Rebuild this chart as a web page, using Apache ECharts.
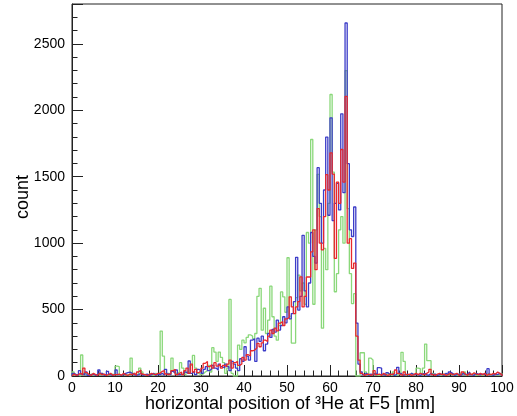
<!DOCTYPE html>
<html>
<head>
<meta charset="utf-8">
<script src="https://cdn.jsdelivr.net/npm/echarts@6/dist/echarts.min.js"></script>
<style>
html,body{margin:0;padding:0;background:#fff;}
#chart{width:517px;height:416px;}
</style>
</head>
<body>
<div id="chart"></div>
<script>
// Histogram: 200 bins of 0.5 mm from 0 to 100 mm
const xMin = 0, xMax = 100, binWidth = 0.5;
const yMax = 2800;
const xTitle = 'horizontal position of \u00B3He at F5 [mm]';
const yTitle = 'count';

const blueCounts = [
  20,10,5,40,15,10,30,5,10,15,
  5,10,45,20,5,10,35,10,5,10,
  45,10,5,10,20,25,30,20,10,5,
  10,20,5,10,15,5,10,20,5,15,
  10,20,5,50,15,10,35,20,45,10,
  15,10,30,20,113,20,35,10,50,40,
  20,50,70,40,55,80,60,45,90,70,
  60,90,70,40,110,90,60,40,130,110,
  220,150,120,270,280,110,285,260,300,190,
  240,320,290,350,330,420,346,380,446,400,
  520,430,470,560,893,496,600,1059,640,520,
  700,1080,900,850,1568,1300,1000,1400,1798,1210,
  1943,1170,1300,1450,1250,1973,1380,2657,1598,1100,
  1050,1272,398,90,30,10,20,5,15,10,
  20,10,63,60,10,5,25,10,15,5,
  10,65,20,5,10,15,5,20,10,15,
  10,5,15,20,10,5,20,10,15,5,
  10,15,5,20,10,30,20,5,10,15,
  5,20,10,15,30,10,5,20,15,10,
  15,10,20,55,10,5,15,10,20,10
];
const redCounts = [
  15,5,10,20,10,60,25,10,5,20,
  10,5,20,10,15,5,10,20,5,10,
  10,15,5,20,10,5,15,10,20,5,
  30,45,15,10,5,10,20,15,10,20,
  20,35,40,15,10,20,40,50,10,20,
  30,10,40,60,20,90,30,50,25,40,
  60,95,110,70,85,60,100,75,90,60,
  80,70,90,120,60,100,110,80,90,140,
  120,160,150,190,195,210,245,220,250,270,
  260,300,345,320,360,340,398,410,380,430,
  440,596,520,470,520,560,746,520,600,745,
  745,935,1100,800,1260,1000,950,1200,1515,1400,
  1680,1520,885,1460,1300,1705,1460,2104,1000,1034,
  810,850,300,120,20,5,10,15,5,10,
  40,10,15,5,20,10,5,15,10,20,
  45,20,10,5,30,10,15,5,10,20,
  10,20,15,10,20,30,50,10,5,15,
  20,10,15,5,10,20,10,15,20,5,
  10,30,15,5,20,10,25,15,10,20,
  10,20,5,15,10,20,15,30,20,10
];
const greenCounts = [
  30,10,5,0,158,20,10,5,15,10,
  5,15,10,20,5,10,5,10,15,5,
  75,70,5,10,15,5,10,135,20,10,
  15,60,30,10,5,15,10,5,20,10,
  25,338,150,20,20,10,135,40,20,30,
  100,60,10,30,20,80,155,60,20,10,
  15,30,40,80,30,213,180,110,180,140,
  100,20,60,576,20,0,0,233,200,270,
  250,290,310,300,280,320,600,660,345,510,
  320,420,676,446,300,270,380,633,596,480,
  890,450,248,248,590,760,640,700,540,1080,
  1000,1780,540,1100,1518,1200,360,960,800,1300,
  2119,1535,634,770,1100,1200,1000,2299,1260,770,
  545,620,0,0,175,175,30,10,135,120,
  10,25,5,10,15,5,20,10,5,30,
  5,10,20,178,110,10,5,20,10,15,
  60,55,20,60,240,115,115,20,10,5,
  10,5,15,10,5,20,10,15,5,10,
  20,10,30,5,15,10,20,5,10,15,
  5,15,10,20,5,10,15,5,10,20
];

function histPoints(counts) {
  const pts = [[xMin, 0]];
  for (let i = 0; i < counts.length; i++) {
    pts.push([xMin + i * binWidth, counts[i]]);
  }
  pts.push([xMax, counts[counts.length - 1]]);
  pts.push([xMax, 0]);
  return pts;
}

const FONT = 'Liberation Sans, Arial, Helvetica, sans-serif';
const chart = echarts.init(document.getElementById('chart'), null, {renderer: 'canvas'});

function lineSeries(name, counts, color) {
  return {
    name: name, type: 'line', step: 'end', data: histPoints(counts),
    xAxisIndex: 0, yAxisIndex: 0,
    showSymbol: false, symbol: 'none', animation: false,
    lineStyle: {color: color, width: 1.3}, silent: true
  };
}

chart.setOption({
  animation: false,
  backgroundColor: '#fff',
  grid: {left: 72, right: 15, top: 4, bottom: 40, show: true, borderColor: '#222', borderWidth: 1, containLabel: false},
  xAxis: [
    {type: 'value', min: xMin, max: xMax, interval: 10, position: 'bottom',
     axisLine: {show: true, onZero: false, lineStyle: {color: '#222', width: 1}},
     axisTick: {show: true, inside: true, length: 11, lineStyle: {color: '#222'}},
     axisLabel: {show: true, color: '#000', fontSize: 14, fontFamily: FONT, margin: 5},
     splitLine: {show: false}},
    {type: 'value', min: xMin, max: xMax, interval: 2, position: 'bottom',
     axisLine: {show: false, onZero: false},
     axisTick: {show: true, inside: true, length: 5.5, lineStyle: {color: '#222'}},
     axisLabel: {show: false}, splitLine: {show: false}}
  ],
  yAxis: [
    {type: 'value', min: 0, max: yMax, interval: 500, position: 'left',
     axisLine: {show: true, onZero: false, lineStyle: {color: '#222', width: 1}},
     axisTick: {show: true, inside: true, length: 11, lineStyle: {color: '#222'}},
     axisLabel: {show: true, color: '#000', fontSize: 14, fontFamily: FONT, margin: 7,
                 formatter: v => (v % 500 === 0 ? String(v) : '')},
     splitLine: {show: false}},
    {type: 'value', min: 0, max: yMax, interval: 100, position: 'left',
     axisLine: {show: false, onZero: false},
     axisTick: {show: true, inside: true, length: 5.5, lineStyle: {color: '#222'}},
     axisLabel: {show: false}, splitLine: {show: false}}
  ],
  graphic: [
    {type: 'text', x: 290, y: 404, silent: true,
     style: {text: xTitle, font: '18px ' + FONT, fill: '#000', textAlign: 'center', textVerticalAlign: 'middle'}},
    {type: 'text', x: 23, y: 197, rotation: Math.PI / 2, silent: true,
     style: {text: yTitle, font: '18px ' + FONT, fill: '#000', textAlign: 'center', textVerticalAlign: 'middle'}}
  ],
  series: [
    lineSeries('green', greenCounts, '#8ad87a'),
    lineSeries('blue', blueCounts, '#3c3cc8'),
    lineSeries('red', redCounts, '#e8282c')
  ]
});
</script>
</body>
</html>
